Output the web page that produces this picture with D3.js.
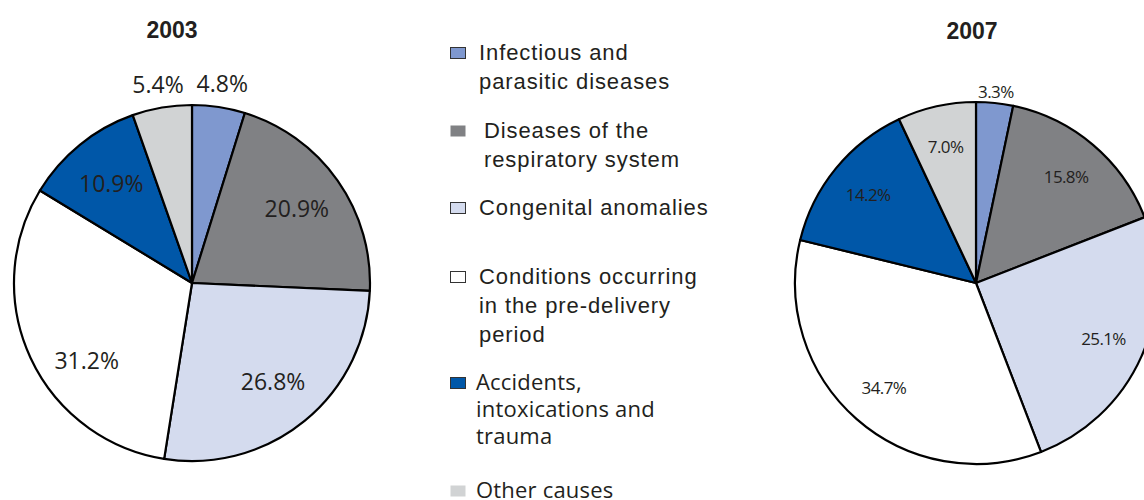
<!DOCTYPE html>
<html>
<head>
<meta charset="utf-8">
<script src="https://cdn.jsdelivr.net/npm/d3@7"></script>
<style>
  body { margin: 0; background: #fff; }
  svg { display: block; }
</style>
</head>
<body>
<div id="chart"></div>
<script>
"use strict";
// data
const categories = ["Infectious and parasitic diseases", "Diseases of the respiratory system",
    "Congenital anomalies", "Conditions occurring in the pre-delivery period",
    "Accidents, intoxications and trauma", "Other causes"];
const legendLines = [
    ["Infectious and", "parasitic diseases"],
    ["Diseases of the", "respiratory system"],
    ["Congenital anomalies"],
    ["Conditions occurring", "in the pre-delivery", "period"],
    ["Accidents,", "intoxications and", "trauma"],
    ["Other causes"]
];
const years = ["2003", "2007"];
const values2003 = [4.8, 20.9, 26.8, 31.2, 10.9, 5.4];
const values2007 = [3.3, 15.8, 25.1, 34.7, 14.2, 7.0];
const colors = ["#7f98cf", "#808184", "#d4dbee", "#ffffff", "#0057a8", "#d1d3d4"];

let width = 1144, height = 500;
let textColor = "#231f20";

let svg = d3.select("#chart").append("svg")
    .attr("width", width)
    .attr("height", height);

let color = d3.scaleOrdinal().domain(categories).range(colors);

// layout per pie
let pies = [
    { year: years[0], values: values2003, cx: 192, cy: 283, r: 178, titleX: 172, titleY: 38,
      inner: 0.72, outer: 1.13, fontSize: 23, spacing: 0 },
    { year: years[1], values: values2007, cx: 976, cy: 283, r: 181, titleX: 972, titleY: 39,
      inner: 0.77, outer: 1.06, fontSize: 17, spacing: -0.6 }
];
let labelNudge = { "2003-3": [11, 24] };

let pie = d3.pie().sort(null).value(d => d.value);

pies.forEach(p => {
    let g = svg.append("g")
        .attr("transform", "translate(" + p.cx + "," + p.cy + ")");

    let data = pie(categories.map((c, i) => ({ cat: c, value: p.values[i] })));
    let arc = d3.arc().innerRadius(0).outerRadius(p.r);

    g.selectAll("path")
        .data(data)
        .enter()
        .append("path")
        .attr("d", arc)
        .attr("fill", d => color(d.data.cat))
        .attr("stroke", "#000")
        .attr("stroke-width", 2.2)
        .attr("stroke-linejoin", "round");

    g.selectAll(".lbl")
        .data(data)
        .enter()
        .append("text")
        .attr("class", "lbl")
        .attr("transform", (d, i) => {
            let k = d.data.value < 6 ? p.outer : p.inner;
            let a = d3.arc().innerRadius(p.r * k).outerRadius(p.r * k);
            let c = a.centroid(d);
            let n = labelNudge[p.year + "-" + i] || [0, 0];
            return "translate(" + (c[0] + n[0]) + "," + (c[1] + n[1]) + ")";
        })
        .attr("dy", "0.35em")
        .style("text-anchor", "middle")
        .style("font-family", "'Open Sans', sans-serif")
        .style("font-size", p.fontSize + "px")
        .style("letter-spacing", p.spacing + "px")
        .style("fill", textColor)
        .text(d => d.data.value.toFixed(1) + "%");

    svg.append("text")
        .attr("x", p.titleX)
        .attr("y", p.titleY)
        .style("text-anchor", "middle")
        .style("font-family", "'Liberation Sans', Arial, sans-serif")
        .style("font-weight", "bold")
        .style("font-size", "23px")
        .style("fill", textColor)
        .text(p.year);
});

// Legend
let legendPos = [
    { y: 60, tx: 479, step: 29, font: "'Liberation Sans', Arial, sans-serif", size: 22 },
    { y: 138, tx: 484, step: 29, font: "'Liberation Sans', Arial, sans-serif", size: 22 },
    { y: 215, tx: 479, step: 29, font: "'Liberation Sans', Arial, sans-serif", size: 22 },
    { y: 284, tx: 479, step: 29, font: "'Liberation Sans', Arial, sans-serif", size: 22 },
    { y: 390, tx: 476, step: 27, font: "'Open Sans', sans-serif", size: 22 },
    { y: 498, tx: 476, step: 27, font: "'Open Sans', sans-serif", size: 22 }
];

let legend = svg.append("g");
categories.forEach((c, i) => {
    let lp = legendPos[i];
    legend.append("rect")
        .attr("x", 450.5)
        .attr("y", lp.y - 12.5)
        .attr("width", 15)
        .attr("height", 11)
        .attr("fill", color(c))
        .attr("stroke", i === 1 || i === 5 ? "none" : "#333")
        .attr("stroke-width", 1);
    let t = legend.append("text")
        .attr("x", lp.tx)
        .attr("y", lp.y)
        .style("font-family", lp.font)
        .style("font-size", lp.size + "px")
        .style("letter-spacing", i < 4 ? "0.9px" : "0.2px")
        .style("fill", textColor);
    legendLines[i].forEach((line, j) => {
        t.append("tspan")
            .attr("x", lp.tx)
            .attr("y", lp.y + j * lp.step)
            .text(line);
    });
});
</script>
</body>
</html>
